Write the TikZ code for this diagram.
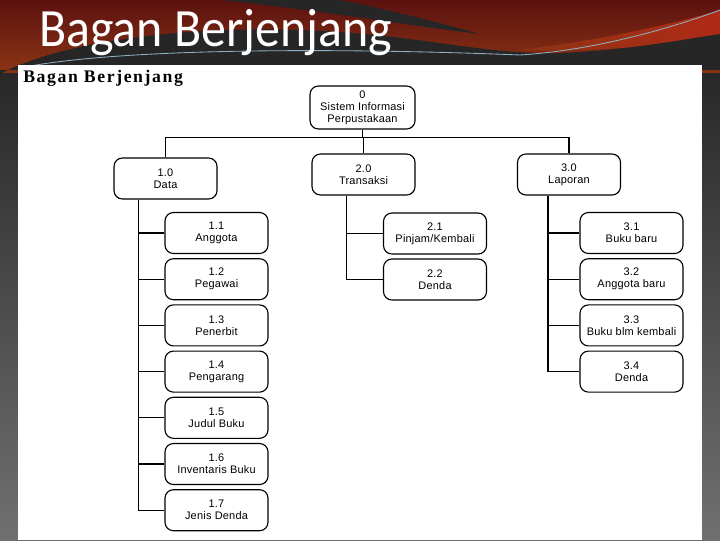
\documentclass[tikz,border=0pt]{standalone}
\usepackage{fontspec}
\setmainfont{Liberation Sans}
\newfontfamily\judulfont{Carlito}
\newfontfamily\labelfont[LetterSpace=9]{Liberation Serif}
\newfontfamily\kotakfont[LetterSpace=2]{Liberation Sans}
\definecolor{latar}{HTML}{262626}
\definecolor{abu}{HTML}{707070}
\definecolor{merahtua}{HTML}{5C1210}
\definecolor{merahbata}{HTML}{8C3414}
\definecolor{merahterang}{HTML}{B02A16}
\definecolor{garisbiru}{HTML}{8FB0C4}
\tikzset{
 kotak/.style={draw, rounded corners=6pt, line width=0.8pt, align=center,
  inner sep=1pt, minimum width=2.575cm, minimum height=1.025cm,
  font=\kotakfont\fontsize{7.8}{8.6}\selectfont},
 garis/.style={line width=0.9pt}
}
\begin{document}
\begin{tikzpicture}[x=0.025cm,y=-0.025cm]
\useasboundingbox (0,0) rectangle (720,540);
% latar slide
\shade[top color=latar, bottom color=abu] (0,60) rectangle (720,540);
\shade[top color=merahtua, bottom color=merahbata] (0,0) rectangle (720,72);
\shade[left color=merahbata, right color=merahterang]
 (520,50) .. controls (600,40) and (670,25) .. (720,10) -- (720,40)
 .. controls (660,45) and (600,52) .. (520,50) -- cycle;
\fill[latar]
 (220,0) -- (340,0) .. controls (380,8) and (430,20) .. (480,34)
 .. controls (410,26) and (320,10) .. (220,0) -- cycle;
\fill[latar] (0,74) .. controls (60,42) and (180,26) .. (300,30)
 .. controls (420,34) and (480,55) .. (560,53)
 .. controls (630,50) and (680,40) .. (720,34) -- (720,70) -- (0,70) -- cycle;
\draw[garisbiru, line width=0.6pt] (30,66) .. controls (150,45) and (400,50) .. (520,55)
 .. controls (600,50) and (680,25) .. (720,10);
\node[text=white, anchor=base west, inner sep=0pt, yscale=1.08,
 font=\judulfont\fontsize{35.5}{40}\selectfont] (judul) at (39,46) {Bagan Berjenjang};
% bidang putih
\fill[white] (18,65) rectangle (702,540);
\node[anchor=base west, inner sep=0pt, font=\labelfont\bfseries\fontsize{12.6}{14}\selectfont]
 (label) at (23,82) {Bagan Berjenjang};

% tingkat 0 dan 1
\node[kotak, minimum width=2.625cm, minimum height=1.075cm] (k0) at (362.5,107.5)
 {0\\Sistem Informasi\\Perpustakaan};
\node[kotak] (k1) at (165.5,178.5) {1.0\\Data};
\node[kotak] (k2) at (363.5,174.5) {2.0\\Transaksi};
\node[kotak] (k3) at (569,174.5) {3.0\\Laporan};

% tingkat 2
\node[kotak] (k11) at (216.5,233) {1.1\\Anggota};
\node[kotak] (k12) at (216.5,279.2) {1.2\\Pegawai};
\node[kotak] (k13) at (216.5,325.4) {1.3\\Penerbit};
\node[kotak] (k14) at (216.5,371.6) {1.4\\Pengarang};
\node[kotak] (k15) at (216.5,417.8) {1.5\\Judul Buku};
\node[kotak] (k16) at (216.5,464) {1.6\\Inventaris Buku};
\node[kotak] (k17) at (216.5,510.2) {1.7\\Jenis Denda};

\node[kotak] (k21) at (435,233.5) {2.1\\Pinjam/Kembali};
\node[kotak] (k22) at (435,279.5) {2.2\\Denda};

\node[kotak] (k31) at (631.5,233) {3.1\\Buku baru};
\node[kotak] (k32) at (631.5,279.2) {3.2\\Anggota baru};
\node[kotak] (k33) at (631.5,325.4) {3.3\\Buku blm kembali};
\node[kotak] (k34) at (631.5,371.6) {3.4\\Denda};

% penghubung
\path (k0.south) ++(0,8) coordinate (bar);
\draw[garis] (k0.south) -- (bar);
\draw[garis] (k1.north) |- (bar) -| (k3.north);
\draw[garis] (bar) -- (bar -| k2.north) -- (k2.north);

\path (k1.south west) ++(25,0) coordinate (t1);
\path (k2.south west) ++(35,0) coordinate (t2);
\path (k3.south west) ++(31,0) coordinate (t3);
\draw[garis] (t1) |- (k17.west);
\foreach \n in {11,12,13,14,15,16} \draw[garis] (k\n.west) -- (k\n.west -| t1);
\draw[garis] (t2) |- (k22.west);
\draw[garis] (k21.west) -- (k21.west -| t2);
\draw[garis] (t3) |- (k34.west);
\foreach \n in {31,32,33} \draw[garis] (k\n.west) -- (k\n.west -| t3);
\end{tikzpicture}
\end{document}
